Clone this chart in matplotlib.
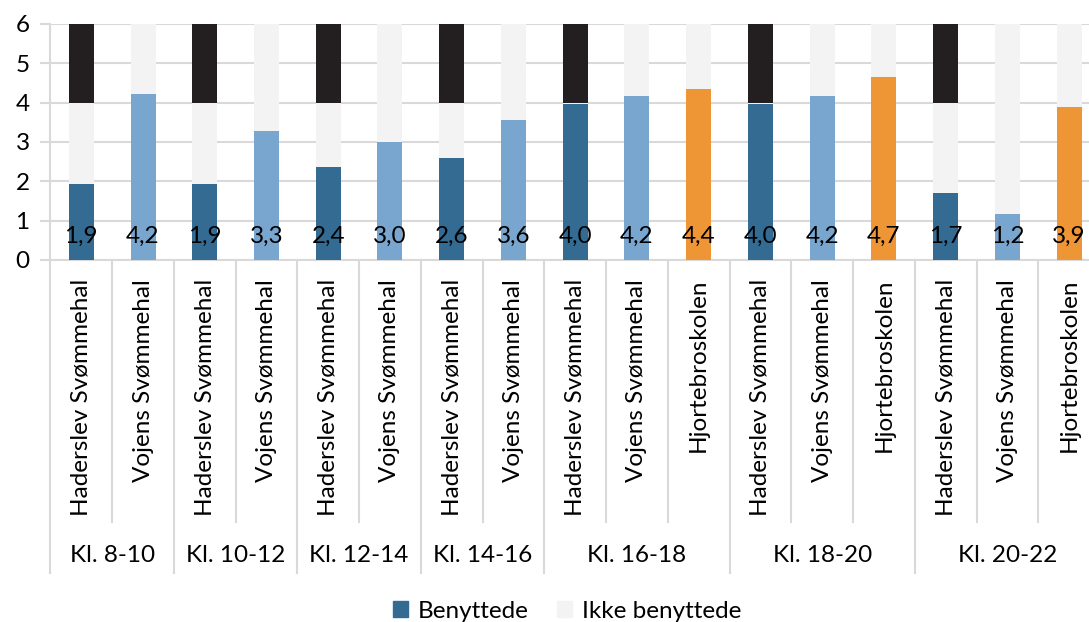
import matplotlib
matplotlib.use("Agg")
import matplotlib.pyplot as plt
from matplotlib.patches import Patch
import matplotlib.transforms as mtransforms

plt.rcParams['font.family'] = ['Lato', 'DejaVu Sans']

# ---- data ----
groups = ["Kl. 8-10", "Kl. 10-12", "Kl. 12-14", "Kl. 14-16", "Kl. 16-18", "Kl. 18-20", "Kl. 20-22"]
group_sizes = [2, 2, 2, 2, 3, 3, 3]
facilities = ["Haderslev Svømmehal", "Vojens Svømmehal",
              "Haderslev Svømmehal", "Vojens Svømmehal",
              "Haderslev Svømmehal", "Vojens Svømmehal",
              "Haderslev Svømmehal", "Vojens Svømmehal",
              "Haderslev Svømmehal", "Vojens Svømmehal", "Hjortebroskolen",
              "Haderslev Svømmehal", "Vojens Svømmehal", "Hjortebroskolen",
              "Haderslev Svømmehal", "Vojens Svømmehal", "Hjortebroskolen"]
benyttede = [1.93, 4.22, 1.93, 3.27, 2.36, 3.0, 2.6, 3.57, 3.96, 4.17, 4.36,
             3.97, 4.16, 4.66, 1.7, 1.18, 3.9]
capacity = {"Haderslev Svømmehal": 4, "Vojens Svømmehal": 6, "Hjortebroskolen": 6}
total_lanes = 6

fac_colors = {"Haderslev Svømmehal": "#336b93", "Vojens Svømmehal": "#78a6cf",
              "Hjortebroskolen": "#ee9535"}
grey_col = "#f2f3f2"
black_col = "#231f20"
line_col = "#d9d9d9"

ikke = [capacity[f] - b for f, b in zip(facilities, benyttede)]
utilgaengelig = [total_lanes - capacity[f] for f in facilities]

# ---- figure ----
fig = plt.figure(figsize=(10.89, 6.22), dpi=100)
W, H = 1089, 622
x0, x1 = 50.4, 1100.0
y0, y1 = 260, 24
ax = fig.add_axes([x0 / W, (H - y0) / H, (x1 - x0) / W, (y0 - y1) / H])

n = len(benyttede)
xs = list(range(n))
bw = 0.405
ax.bar(xs, benyttede, width=bw, color=[fac_colors[f] for f in facilities], zorder=3)
ax.bar(xs, ikke, bottom=benyttede, width=bw, color=grey_col, zorder=3)
caps = [capacity[f] for f in facilities]
ax.bar(xs, utilgaengelig, bottom=caps, width=bw, color=black_col, zorder=3)

fs = 17.5
for x, v in zip(xs, benyttede):
    ax.text(x, 0.6, f"{v:.1f}".replace(".", ","), ha="center", va="center",
            fontsize=fs, color="black", zorder=5)

ax.set_xlim(-0.5, n - 0.5)
ax.set_ylim(0, 6)
ax.set_yticks(range(0, 7))
ax.yaxis.grid(True, color=line_col, linewidth=1.5, zorder=0)
ax.set_axisbelow(True)
ax.set_xticks([])
for s in ["top", "right"]:
    ax.spines[s].set_visible(False)
ax.spines["left"].set_color(line_col)
ax.spines["left"].set_linewidth(1.5)
ax.spines["bottom"].set_color(line_col)
ax.spines["bottom"].set_linewidth(1.5)
ax.tick_params(axis="y", length=7, width=1.5, color=line_col, labelsize=fs, pad=8)

# category axis lines and labels
trans = mtransforms.blended_transform_factory(ax.transData, ax.transAxes)
axh = y0 - y1
short = -(522 - y0) / axh
long_ = -(573 - y0) / axh
boundaries = [-0.5]
for g in group_sizes:
    boundaries.append(boundaries[-1] + g)
for i in range(n + 1):
    xb = i - 0.5
    yb = long_ if xb in boundaries else short
    ax.plot([xb, xb], [0, yb], transform=trans, color=line_col, lw=1.5, clip_on=False)

for x, f in zip(xs, facilities):
    ax.text(x, -(279 - y0) / axh, f, rotation=90, ha="center", va="top",
            fontsize=fs, transform=trans)

for gi, g in enumerate(groups):
    c = (boundaries[gi] + boundaries[gi + 1]) / 2
    ax.text(c, -(555 - y0) / axh, g, ha="center", va="center", fontsize=fs, transform=trans)

handles = [Patch(color=fac_colors["Haderslev Svømmehal"], label="Benyttede"),
           Patch(color=grey_col, label="Ikke benyttede")]
fig.legend(handles=handles, loc="center", bbox_to_anchor=(567 / W, (H - 611) / H),
           ncol=2, frameon=False, fontsize=fs, handlelength=0.6, handleheight=0.6,
           handletextpad=0.4, columnspacing=1.2)

fig.savefig("out.png", dpi=100)
